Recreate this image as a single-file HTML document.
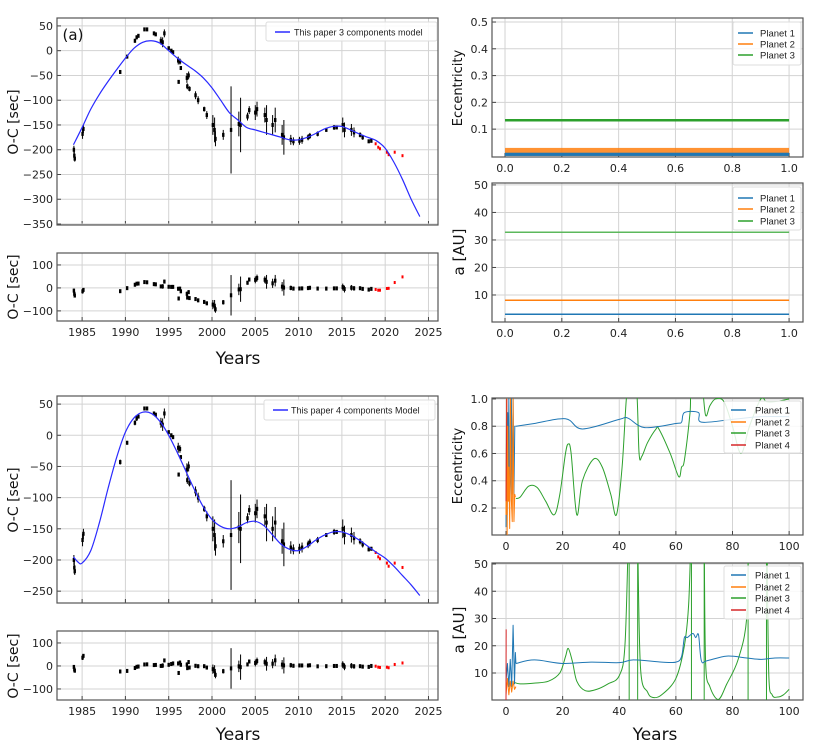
<!DOCTYPE html>
<html><head><meta charset="utf-8"><style>
html,body{margin:0;padding:0;background:#fff;}
svg{display:block;font-family:"DejaVu Sans","Liberation Sans",sans-serif;}
</style></head><body>
<svg id="fig" width="831" height="749" viewBox="0 0 831 749"></svg>
<script>
// ---- O-C observations ----
const obsYear=[1984.05,1984.1,1984.15,1985.05,1985.15,1989.4,1990.2,1991.1,1991.3,1991.5,1992.2,1992.5,1993.3,1993.5,1994.1,1994.3,1994.5,1995.0,1995.3,1995.5,1996.1,1996.3,1996.15,1996.4,1997.1,1997.3,1997.15,1997.4,1998.1,1998.4,1999.1,1999.4,2000.1,2000.3,2000.4,2001.3,2002.2,2003.1,2003.3,2004.1,2004.3,2005.0,2005.2,2006.1,2006.3,2007.0,2007.3,2008.1,2008.3,2009.1,2009.4,2010.1,2010.4,2011.1,2011.3,2012.2,2013.2,2014.1,2014.4,2015.1,2015.3,2016.1,2016.4,2017.1,2017.4,2018.1,2018.4,2018.9,2019.2,2019.4,2020.2,2020.4,2021.1,2022.0];
const obsOC=[-200,-212,-218,-168,-158,-43,-12,20,27,30,43,43,35,33,20,17,35,5,0,-3,-20,-22,-63,-35,-55,-50,-72,-77,-90,-100,-118,-130,-150,-160,-178,-170,-160,-148,-150,-133,-120,-125,-118,-130,-140,-150,-140,-170,-175,-180,-183,-182,-180,-175,-172,-168,-160,-155,-155,-150,-160,-160,-165,-170,-175,-183,-182,-188,-195,-198,-205,-210,-205,-212];
const obsErr=[8,10,6,10,8,4,3,4,4,3,2,2,3,3,8,10,8,3,3,3,8,6,3,3,10,8,6,5,8,8,5,8,20,25,15,10,88,25,55,8,8,15,15,15,30,20,25,20,35,10,8,8,8,6,6,5,3,5,3,15,15,12,10,5,5,3,3,3,4,4,8,6,3,2];
const obsRed=[0,0,0,0,0,0,0,0,0,0,0,0,0,0,0,0,0,0,0,0,0,0,0,0,0,0,0,0,0,0,0,0,0,0,0,0,0,0,0,0,0,0,0,0,0,0,0,0,0,0,0,0,0,0,0,0,0,0,0,0,0,0,0,0,0,0,0,1,1,1,1,1,1,1];
// ---- models ----
const modelAYear=[1984,1985,1986,1987,1988,1989,1990,1991,1992,1993,1994,1995,1996,1997,1998,1999,2000,2001,2002,2003,2004,2005,2006,2007,2008,2009,2010,2011,2012,2013,2014,2015,2016,2017,2018,2019,2020,2021,2022,2023,2024];
const modelAVal=[-190,-155,-118,-88,-62,-38,-15,5,17,20,15,0,-15,-28,-40,-55,-75,-100,-125,-140,-155,-160,-165,-170,-175,-180,-180,-175,-167,-158,-153,-153,-160,-168,-175,-182,-197,-225,-260,-300,-335];
const modelCYear=[1984,1984.5,1985,1986,1987,1988,1989,1990,1991,1992,1993,1994,1995,1996,1997,1998,1999,2000,2001,2002,2003,2004,2005,2006,2007,2008,2009,2010,2011,2012,2013,2014,2015,2016,2017,2018,2019,2020,2021,2022,2023,2024];
const modelCVal=[-195,-203,-205,-185,-140,-85,-35,5,28,37,35,22,0,-28,-58,-88,-115,-135,-146,-150,-147,-140,-138,-145,-160,-175,-183,-185,-178,-168,-160,-155,-155,-160,-168,-178,-188,-197,-210,-225,-240,-257];
// ---- 3-planet stable run ----
const s3EccP1=[0,0.012], s3EccP2=[0,0.03], s3EccP3=0.133;
const s3AP1=3.0, s3AP2=8.1, s3AP3=32.8;
// ---- 4-planet chaotic run ----
const c4EccT1=[0,0.2,0.4,0.6,0.8,1.0,1.3,1.6,1.9,2.2,2.5,2.8,3.1,3.4];
const c4EccP1=[0.06,1.0,0.15,0.9,0.3,1.0,0.25,0.4,1.0,0.3,1.0,0.3,0.8,0.8];
const c4EccT1b=[3.5,10,21,27,40,43,49,60,62,63,68,69,80,90,100];
const c4EccP1b=[0.80,0.82,0.855,0.78,0.85,0.86,0.79,0.82,0.83,0.9,0.9,0.83,0.85,0.87,0.87];
const c4EccT2=[0,0.2,0.4,0.6,0.8,1.0,1.3,1.6,1.9,2.2,2.5,2.8,3.1,3.3];
const c4EccP2=[0.15,1.0,0.0,0.8,0.25,0.5,0.05,1.0,0.25,0.1,1.0,0.1,0.3,0.28];
const c4EccT3=[3.5,5,8,11,14,17,19,21,22,23,25,27,31,34,37,39,41,42.5,43.5,46,47,48,50,53,54,58,61,62,63,65,65.5,69,70.5,72,74,77,80,83,86,90,92,95,100];
const c4EccP3=[0.27,0.28,0.36,0.35,0.25,0.15,0.3,0.6,0.67,0.6,0.15,0.4,0.56,0.5,0.3,0.15,0.5,1.0,1.1,1.1,0.6,0.58,0.68,0.78,0.78,0.6,0.43,0.5,0.55,0.9,1.1,1.1,0.88,0.95,1.0,0.98,0.8,0.6,0.8,1.0,0.98,0.98,1.0];
const c4EccT4=[0,0.3];
const c4EccP4=[0.25,1.0];
const c4AT1=[0,0.5,1,1.5,2,2.5,3,3.3,3.5];
const c4AP1=[7,13.5,5,15,5,27.5,6,17.5,13.5];
const c4AT1b=[3.5,10,20,30,40,45,55,60,62,63,64,66,67,68,69,71,78,85,90,95,100];
const c4AP1b=[13.5,14.8,13.5,14,13.8,14.8,14,14,16,23,23,24.5,23,24,14.5,14.5,16.2,15.5,15,15.5,15.5];
const c4AT2=[0,0.5,1,1.5,2,2.5,3,3.5];
const c4AP2=[2,8,2,7,3,7,4,5];
// green a: smooth segments separated by near-vertical excursions
const c4AT3a=[3,5,10,15,19,21,22,23.5,25,28,32,36,40,42,43.2];
const c4AP3a=[6.5,6,6.3,7,10,16,19,14,7,3.5,4,6,9,20,60];
const c4AT3b=[46.5,47.5,50,52,55,60,63,64.5,65.3];
const c4AP3b=[60,12,3,1,2,8,20,35,60];
const c4AT3c=[70,70.5,72,75,78,82,85,85.6];
const c4AP3c=[60,14,5,0.3,6,15,30,60];
const c4AT3d=[92.2,92.8,94,96,98,100];
const c4AP3d=[60,10,2,1.2,2,4];
const c4AT3v=[43.5,46.5,65.5,70,85.5,92];
const c4AT4=[0,0.05];
const c4AP4=[0,26];

const NS='http://www.w3.org/2000/svg';
const svg=document.getElementById('fig');
function mk(tag,attrs,parent){const e=document.createElementNS(NS,tag);for(const k in attrs)e.setAttribute(k,attrs[k]);(parent||svg).appendChild(e);return e;}
function lin(d0,d1,r0,r1){return v=>r0+(v-d0)*(r1-r0)/(d1-d0);}
function interp(xs,ys,x){if(x<=xs[0])return ys[0];for(let i=1;i<xs.length;i++){if(x<=xs[i]){const t=(x-xs[i-1])/(xs[i]-xs[i-1]);return ys[i-1]+t*(ys[i]-ys[i-1]);}}return ys[ys.length-1];}
let clipId=0;
function panel(name,b,xd,yd,xt,yt,xtl,ytl,showXLabels){
  const g=mk('g',{});
  
  
  const X=lin(xd[0],xd[1],b.x,b.x+b.w), Y=lin(yd[0],yd[1],b.y+b.h,b.y);
  const id='c'+(clipId++);
  const cp=mk('clipPath',{id:id},g);mk('rect',{x:b.x,y:b.y,width:b.w,height:b.h},cp);
  xt.forEach((v,i)=>{const l=mk('line',{x1:X(v),x2:X(v),y1:b.y,y2:b.y+b.h,stroke:'#d3d3d3','stroke-width':1},g);
    
    
    mk('line',{x1:X(v),x2:X(v),y1:b.y+b.h,y2:b.y+b.h-4,stroke:'#444'},g);
    if(showXLabels){const t=mk('text',{x:X(v),y:b.y+b.h+15,'text-anchor':'middle','font-size':11,fill:'#222'},g);t.textContent=xtl[i];
      
      }});
  yt.forEach((v,i)=>{const l=mk('line',{x1:b.x,x2:b.x+b.w,y1:Y(v),y2:Y(v),stroke:'#d3d3d3','stroke-width':1},g);
    
    
    mk('line',{x1:b.x,x2:b.x+4,y1:Y(v),y2:Y(v),stroke:'#444'},g);
    const t=mk('text',{x:b.x-4,y:Y(v)+4,'text-anchor':'end','font-size':11,fill:'#222'},g);t.textContent=ytl[i];
    
    });
  const fr=mk('rect',{x:b.x,y:b.y,width:b.w,height:b.h,fill:'none',stroke:'#555','stroke-width':1.2},g);
  
  
  const inner=mk('g',{'clip-path':'url(#'+id+')'},g);
  return {X,Y,g:inner,outer:g};
}
function polyline(p,xs,ys,color,w,name){
  const pts=xs.map((x,i)=>p.X(x).toFixed(2)+','+p.Y(ys[i]).toFixed(2)).join(' ');
  const l=mk('polyline',{points:pts,fill:'none',stroke:color,'stroke-width':w||1,'stroke-linejoin':'round'},p.g);
  
  
  return l;
}
function smooth(p,xs,ys,color,w,name){
  const P=xs.map((x,i)=>[p.X(x),p.Y(ys[i])]);
  let d='M'+P[0][0].toFixed(2)+','+P[0][1].toFixed(2);
  for(let i=0;i<P.length-1;i++){
    const p0=P[Math.max(0,i-1)],p1=P[i],p2=P[i+1],p3=P[Math.min(P.length-1,i+2)];
    const c1=[p1[0]+(p2[0]-p0[0])/6,p1[1]+(p2[1]-p0[1])/6];
    const c2=[p2[0]-(p3[0]-p1[0])/6,p2[1]-(p3[1]-p1[1])/6];
    d+=' C'+c1[0].toFixed(2)+','+c1[1].toFixed(2)+' '+c2[0].toFixed(2)+','+c2[1].toFixed(2)+' '+p2[0].toFixed(2)+','+p2[1].toFixed(2);
  }
  const l=mk('path',{d:d,fill:'none',stroke:color,'stroke-width':w||1},p.g);
  
  
  return l;
}
function text(s,x,y,size,anchor,rot,name){
  const t=mk('text',{x:x,y:y,'font-size':size,'text-anchor':anchor||'middle',fill:'#111'});
  if(rot)t.setAttribute('transform','rotate(-90 '+x+' '+y+')');
  t.textContent=s;
  
  
  return t;
}
function legend(name,x,y,w,h,items,lineX,textX,fs){
  const g=mk('g',{});
  
  
  mk('rect',{x:x,y:y,width:w,height:h,fill:'#fff','fill-opacity':0.85,stroke:'#ddd',rx:2},g);
  items.forEach(it=>{
    mk('line',{x1:lineX,x2:lineX+15,y1:it.y,y2:it.y,stroke:it.c,'stroke-width':1.5},g);
    const t=mk('text',{x:textX,y:it.y+3.5,'font-size':fs,fill:'#222','font-family':'Liberation Sans, sans-serif'},g);t.textContent=it.t;
    
    
  });
}
function drawObs(p,resid,mY,mV,name){
  const gg=mk('g',{},p.g);
  
  
  obsYear.forEach((yr,i)=>{
    const v=resid?obsOC[i]-interp(mY,mV,yr):obsOC[i];
    const c=obsRed[i]?'#ff0000':'#000';
    const x=p.X(yr);
    if(!obsRed[i]){mk('line',{x1:x,x2:x,y1:p.Y(v-obsErr[i]),y2:p.Y(v+obsErr[i]),stroke:c,'stroke-width':1},gg);
      mk('rect',{x:x-1.2,y:p.Y(v)-2,width:2.4,height:4,fill:c},gg);}
    else mk('rect',{x:x-1,y:p.Y(v)-1.5,width:2,height:3,fill:c},gg);
  });
}
// ===== Panel (a) =====
const yrT=[1985,1990,1995,2000,2005,2010,2015,2020,2025];
const yrL=yrT.map(String);
const pA=panel('oc-panel-3-components',{x:57,y:18,w:381,h:207},[1982.1,2026.1],[-352,66],yrT,[50,0,-50,-100,-150,-200,-250,-300,-350],yrL,['50','0','−50','−100','−150','−200','−250','−300','−350'],false);
drawObs(pA,false,null,null,'observations-a');
smooth(pA,modelAYear,modelAVal,'#2a2aff',1.2,'model-3-components-line');
legend('legend-a',266,22,171,19,[{y:32,c:'#2a2aff',t:'This paper 3 components model'}],275,294,9);
text('(a)',73,40,15,'middle',false,'panel-label-a');
const pAr=panel('residual-panel-a',{x:57,y:253,w:381,h:68},[1982.1,2026.1],[-144,152],yrT,[100,0,-100],yrL,['100','0','−100'],true);
drawObs(pAr,true,modelAYear,modelAVal,'residuals-a');
text('O-C [sec]',18,122,14,'middle',true,'y-axis-title-a');
text('O-C [sec]',18,287,14,'middle',true,'y-axis-title-a-resid');
text('Years',238,364,17,'middle',false,'x-axis-title-a');
// ===== Panel (c) =====
const pC=panel('oc-panel-4-components',{x:57,y:396,w:381,h:207},[1982.1,2026.1],[-269,63],yrT,[50,0,-50,-100,-150,-200,-250],yrL,['50','0','−50','−100','−150','−200','−250'],false);
drawObs(pC,false,null,null,'observations-c');
smooth(pC,modelCYear,modelCVal,'#2a2aff',1.2,'model-4-components-line');
legend('legend-c',264,400,171,20,[{y:410,c:'#2a2aff',t:'This paper 4 components Model'}],273,291,9);
const pCr=panel('residual-panel-c',{x:57,y:631,w:381,h:69},[1982.1,2026.1],[-148,152],yrT,[100,0,-100],yrL,['100','0','−100'],true);
drawObs(pCr,true,modelCYear,modelCVal,'residuals-c');
text('O-C [sec]',18,500,14,'middle',true,'y-axis-title-c');
text('O-C [sec]',18,666,14,'middle',true,'y-axis-title-c-resid');
text('Years',238,740,17,'middle',false,'x-axis-title-c');
// ===== Right top: 3-planet ecc =====
const fT=[0,0.2,0.4,0.6,0.8,1.0], fL=['0.0','0.2','0.4','0.6','0.8','1.0'];
const pE3=panel('eccentricity-panel-3-planets',{x:492,y:18,w:311,h:139},[-0.0458,1.049],[-0.004,0.515],fT,[0.1,0.2,0.3,0.4,0.5],fL,['0.1','0.2','0.3','0.4','0.5'],true);
{const g=pE3.g;
 let r=mk('rect',{x:pE3.X(0),y:pE3.Y(s3EccP2[1]),width:pE3.X(1)-pE3.X(0),height:pE3.Y(s3EccP2[0])-pE3.Y(s3EccP2[1]),fill:'#ff7f0e','fill-opacity':0.85},g);
 
 
 r=mk('rect',{x:pE3.X(0),y:pE3.Y(s3EccP1[1]),width:pE3.X(1)-pE3.X(0),height:pE3.Y(s3EccP1[0])-pE3.Y(s3EccP1[1]),fill:'#1f77b4'},g);
 
 
 polyline(pE3,[0,1],[s3EccP3,s3EccP3],'#2ca02c',2.5,'planet-3-eccentricity-line');}
legend('legend-ecc-3',733,22,68,43,[{y:33,c:'#1f77b4',t:'Planet 1'},{y:44,c:'#ff7f0e',t:'Planet 2'},{y:55,c:'#2ca02c',t:'Planet 3'}],738,760,9.5);
text('Eccentricity',462,88,13,'middle',true,'y-axis-title-ecc-3');
// ===== Right top: 3-planet a =====
const pA3=panel('semimajor-panel-3-planets',{x:492,y:183,w:311,h:139},[-0.0458,1.049],[0.18,50.7],fT,[10,20,30,40,50],fL,['10','20','30','40','50'],true);
polyline(pA3,[0,1],[s3AP1,s3AP1],'#1f77b4',1.5,'planet-1-a-line');
polyline(pA3,[0,1],[s3AP2,s3AP2],'#ff7f0e',1.5,'planet-2-a-line');
polyline(pA3,[0,1],[s3AP3,s3AP3],'#5cb85c',1.5,'planet-3-a-line');
legend('legend-a-3',733,187,68,43,[{y:198,c:'#1f77b4',t:'Planet 1'},{y:209,c:'#ff7f0e',t:'Planet 2'},{y:221,c:'#2ca02c',t:'Planet 3'}],738,760,9.5);
text('a [AU]',464,252,15,'middle',true,'y-axis-title-a-3');
// ===== Right bottom: 4-planet ecc =====
const hT=[0,20,40,60,80,100], hL=hT.map(String);
const pE4=panel('eccentricity-panel-4-planets',{x:492,y:398,w:311,h:137},[-4.95,104.9],[0.002,1.007],hT,[0.2,0.4,0.6,0.8,1.0],hL,['0.2','0.4','0.6','0.8','1.0'],true);
smooth(pE4,c4EccT3,c4EccP3,'#2ca02c',1,'planet-3-eccentricity-line');
smooth(pE4,c4EccT1b,c4EccP1b,'#1f77b4',1,'planet-1-eccentricity-line');
polyline(pE4,c4EccT1,c4EccP1,'#1f77b4',1,'planet-1-eccentricity-early');
polyline(pE4,c4EccT2,c4EccP2,'#ff7f0e',1,'planet-2-eccentricity-line');
polyline(pE4,c4EccT4,c4EccP4,'#d62728',1,'planet-4-eccentricity-line');
legend('legend-ecc-4',724,401,77,52,[{y:410,c:'#1f77b4',t:'Planet 1'},{y:422,c:'#ff7f0e',t:'Planet 2'},{y:433,c:'#2ca02c',t:'Planet 3'},{y:445,c:'#d62728',t:'Planet 4'}],731,755,9.5);
text('Eccentricity',462,466,13,'middle',true,'y-axis-title-ecc-4');
// ===== Right bottom: 4-planet a =====
const pA4=panel('semimajor-panel-4-planets',{x:492,y:563,w:311,h:137},[-4.95,104.9],[0.09,50.37],hT,[10,20,30,40,50],hL,['10','20','30','40','50'],true);
smooth(pA4,c4AT3a,c4AP3a,'#2ca02c',1,'planet-3-a-line');
smooth(pA4,c4AT3b,c4AP3b,'#2ca02c',1,'planet-3-a-line');
smooth(pA4,c4AT3c,c4AP3c,'#2ca02c',1,'planet-3-a-line');
smooth(pA4,c4AT3d,c4AP3d,'#2ca02c',1,'planet-3-a-line');
c4AT3v.forEach(t=>{polyline(pA4,[t,t],[0,60],'#2ca02c',1,'planet-3-a-spike');});
smooth(pA4,c4AT1b,c4AP1b,'#1f77b4',1,'planet-1-a-line');
polyline(pA4,c4AT1,c4AP1,'#1f77b4',1,'planet-1-a-early');
polyline(pA4,c4AT2,c4AP2,'#ff7f0e',1,'planet-2-a-line');
polyline(pA4,c4AT4,c4AP4,'#d62728',1,'planet-4-a-line');
legend('legend-a-4',724,566,77,53,[{y:575,c:'#1f77b4',t:'Planet 1'},{y:587,c:'#ff7f0e',t:'Planet 2'},{y:598,c:'#2ca02c',t:'Planet 3'},{y:610,c:'#d62728',t:'Planet 4'}],731,755,9.5);
text('a [AU]',464,630,15,'middle',true,'y-axis-title-a-4');
text('Years',655,740,17,'middle',false,'x-axis-title-right');
</script>
</body></html>
